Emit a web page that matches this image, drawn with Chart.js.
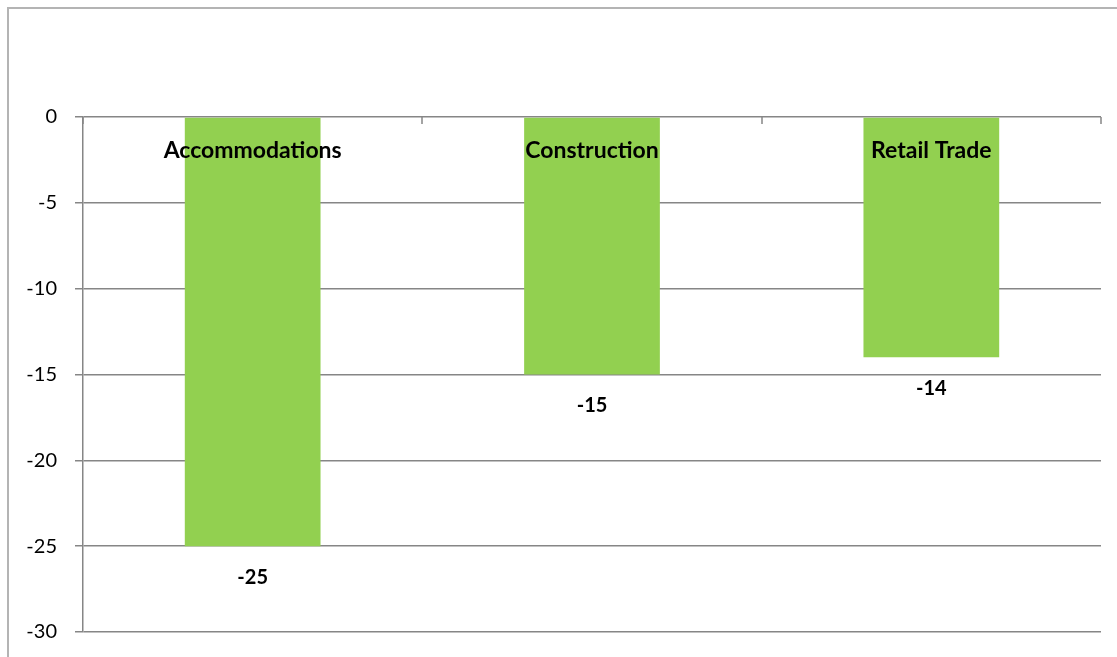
<!DOCTYPE html>
<html>
<head>
<meta charset="utf-8">
<script src="https://cdn.jsdelivr.net/npm/chart.js@4/dist/chart.umd.min.js"></script>
<style>
  html, body { margin: 0; padding: 0; background: #fff; }
  #wrap { width: 1117px; height: 657px; }
</style>
</head>
<body>
<div id="wrap"><canvas id="bars"></canvas></div>
<script>
const categories = ["Accommodations", "Construction", "Retail Trade"];
const values = [-25, -15, -14];
const yTicks = [0, -5, -10, -15, -20, -25, -30];

const axisGray = "#868686";
const fontFamily = "Lato, 'Open Sans', sans-serif";

// outer frame, top tick marks, category names and value labels
const extras = {
    id: "extras",
    beforeDraw(chart) {
        const c = chart.ctx;
        c.save();
        c.strokeStyle = "#b4b4b4";
        c.lineWidth = 2;
        c.beginPath();
        c.moveTo(8, chart.height);
        c.lineTo(8, 8);
        c.lineTo(chart.width, 8);
        c.stroke();
        c.restore();
    },
    afterDatasetsDraw(chart) {
        const c = chart.ctx, x = chart.scales.x, y = chart.scales.y;
        const area = chart.chartArea;
        const step = (area.right - area.left) / categories.length;
        c.save();
        c.strokeStyle = axisGray;
        c.lineWidth = 1.5;
        for (let i = 0; i <= categories.length; i++) {
            const px = Math.round(area.left + i * step);
            c.beginPath();
            c.moveTo(px, area.top);
            c.lineTo(px, area.top + 7);
            c.stroke();
        }
        c.fillStyle = "#000";
        c.textAlign = "center";
        c.textBaseline = "middle";
        c.font = "bold 23px " + fontFamily;
        categories.forEach((name, i) => {
            c.fillText(name, x.getPixelForValue(i), area.top + 34);
        });
        c.font = "bold 20px " + fontFamily;
        const meta = chart.getDatasetMeta(0);
        values.forEach((v, i) => {
            const bar = meta.data[i];
            c.fillText(String(v), bar.x, y.getPixelForValue(v) + 31);
        });
        c.restore();
    }
};

new Chart(document.getElementById("bars"), {
    type: "bar",
    data: {
        labels: categories,
        datasets: [{
            data: values,
            backgroundColor: "#92D050",
            borderWidth: 0,
            categoryPercentage: 1,
            barPercentage: 0.4
        }]
    },
    options: {
        responsive: true,
        maintainAspectRatio: false,
        animation: false,
        layout: { padding: { top: 117, right: 16, bottom: 25, left: 0 } },
        plugins: { legend: { display: false }, tooltip: { enabled: false } },
        scales: {
            x: { display: false },
            y: {
                min: -30,
                max: 0,
                afterFit(s) {
                    s.width = 83;
                    s.paddingTop = 0;
                    s.paddingBottom = 0;
                },
                afterBuildTicks(s) { s.ticks = yTicks.map(v => ({ value: v })); },
                ticks: {
                    color: "#000",
                    padding: 18,
                    font: { family: fontFamily, size: 20 }
                },
                grid: { color: axisGray, lineWidth: 1.5, tickLength: 8, tickColor: axisGray },
                border: { color: axisGray, width: 1.5 }
            }
        }
    },
    plugins: [extras]
});
</script>
</body>
</html>
